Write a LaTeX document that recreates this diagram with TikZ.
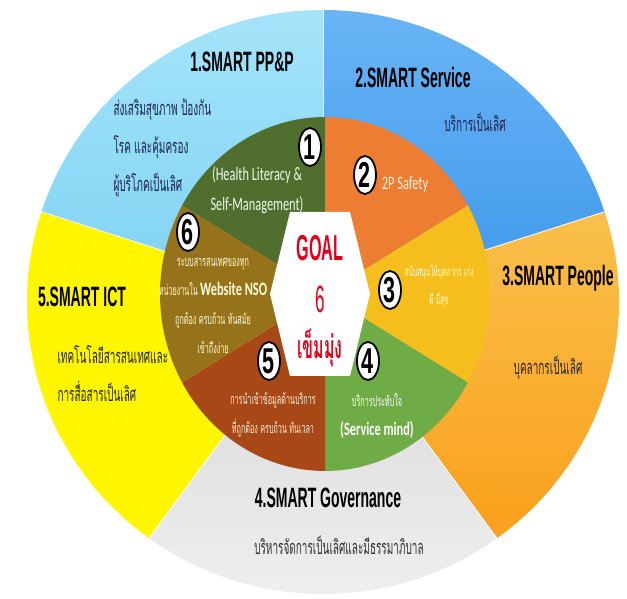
\documentclass[tikz,border=0pt]{standalone}
\usepackage{fontspec}
\setmainfont{Carlito}[FakeStretch=0.65]
\newfontfamily\thai[Script=Thai,FakeStretch=0.5]{Loma}
\newfontfamily\smart[FakeStretch=0.5]{Liberation Sans}
\newfontfamily\badgefont[FakeStretch=0.6]{Liberation Sans}
\newfontfamily\goalfont[FakeStretch=0.45]{Liberation Sans}
\newfontfamily\goalthai[Script=Thai,FakeStretch=0.5]{Loma}
\usetikzlibrary{shapes.geometric}

\definecolor{outAtop}{RGB}{165,228,250}
\definecolor{outA}{RGB}{125,210,243}
\definecolor{outBtop}{RGB}{105,180,246}
\definecolor{outB}{RGB}{62,152,235}
\definecolor{outCtop}{RGB}{250,192,75}
\definecolor{outC}{RGB}{250,160,28}
\definecolor{outDtop}{RGB}{214,214,214}
\definecolor{outD}{RGB}{240,240,240}
\definecolor{outE}{RGB}{255,246,0}
\definecolor{inA}{RGB}{80,110,45}
\definecolor{inB}{RGB}{236,125,50}
\definecolor{inC}{RGB}{246,190,28}
\definecolor{inD}{RGB}{112,172,70}
\definecolor{inE}{RGB}{168,72,22}
\definecolor{inF}{RGB}{150,114,26}
\definecolor{goalred}{RGB}{228,0,28}
\definecolor{navy}{RGB}{28,36,78}

\tikzset{
	title/.style={font=\smart\bfseries\fontsize{28}{28}\selectfont, text=black},
	outtxt/.style={font=\thai\fontsize{20}{38}\selectfont, text=navy},
	intxt/.style={font=\thai\fontsize{14.4}{29}\selectfont, text=white, align=center},
	badge/.style={ellipse, draw=black, line width=1.8pt, fill=white, inner sep=0pt,
		minimum width=22pt, minimum height=38pt, font=\badgefont\bfseries\fontsize{36}{36}\selectfont},
	sep/.style={white, line width=0.8pt}
}

\begin{document}
\begin{tikzpicture}[x=1pt, y=1pt]

	\useasboundingbox (0,0) rectangle (627,598);
	\fill[white] (0,0) rectangle (627,598);

	\coordinate (oc) at (323,296);
	\coordinate (ic) at (325,304);

	\shade[top color=outAtop, bottom color=outA] (oc) -- ++(90:296 and 292) arc[start angle=90, end angle=162, x radius=296, y radius=292] -- cycle;
	\shade[top color=outBtop, bottom color=outB] (oc) -- ++(18:296 and 292) arc[start angle=18, end angle=90, x radius=296, y radius=292] -- cycle;
	\shade[top color=outCtop, bottom color=outC] (oc) -- ++(-54:296 and 292) arc[start angle=-54, end angle=18, x radius=296, y radius=292] -- cycle;
	\shade[top color=outDtop, bottom color=outD] (oc) -- ++(-126:296 and 292) arc[start angle=-126, end angle=-54, x radius=296, y radius=292] -- cycle;
	\fill[outE] (oc) -- ++(162:296 and 292) arc[start angle=162, end angle=234, x radius=296, y radius=292] -- cycle;

	\draw[sep] (oc) -- ++(90:296 and 292);
	\draw[sep] (oc) -- ++(18:296 and 292);
	\draw[sep] (oc) -- ++(-54:296 and 292);
	\draw[sep] (oc) -- ++(-126:296 and 292);
	\draw[sep] (oc) -- ++(162:296 and 292);

	\fill[inA] (ic) -- ++(90:165 and 177) arc[start angle=90, end angle=150, x radius=165, y radius=177] -- cycle;
	\fill[inB] (ic) -- ++(30:165 and 177) arc[start angle=30, end angle=90, x radius=165, y radius=177] -- cycle;
	\fill[inC] (ic) -- ++(-30:165 and 177) arc[start angle=-30, end angle=30, x radius=165, y radius=177] -- cycle;
	\fill[inD] (ic) -- ++(-90:165 and 177) arc[start angle=-90, end angle=-30, x radius=165, y radius=177] -- cycle;
	\fill[inE] (ic) -- ++(-150:165 and 177) arc[start angle=-150, end angle=-90, x radius=165, y radius=177] -- cycle;
	\fill[inF] (ic) -- ++(150:165 and 177) arc[start angle=150, end angle=210, x radius=165, y radius=177] -- cycle;

	\fill[white] (290,386) -- (350,386) -- (370,304) -- (350,222) -- (290,222) -- (270,304) -- cycle;

	\node[title] (t1) at (242,536) {1.SMART PP\&P};
	\node[title] (t2) at (413,521) {2.SMART Service};
	\node[title] (t3) at (558,320) {3.SMART People};
	\node[title] (t4) at (328,100) {4.SMART Governance};
	\node[title] (t5) at (82,301) {5.SMART ICT};

	\node[outtxt, align=left, anchor=west] (d1) at (110,450) {ส่งเสริมสุขภาพ ป้องกัน\\โรค และคุ้มครอง\\ผู้บริโภคเป็นเลิศ};
	\node[outtxt] (d2) at (475,476) {บริการเป็นเลิศ};
	\node[outtxt, text=black!85] (d3) at (548,230) {บุคลากรเป็นเลิศ};
	\node[outtxt, text=black!80] (d4) at (339,53) {บริหารจัดการเป็นเลิศและมีธรรมาภิบาล};
	\node[outtxt, text=black!85, align=left, anchor=west] (d5) at (54,224) {เทคโนโลยีสารสนเทศและ\\การสื่อสารเป็นเลิศ};

	\node[intxt, font=\fontsize{19}{30}\selectfont, text=green!8!white] (i1) at (257,408) {(Health Literacy \&\\Self-Management)};
	\node[intxt, font=\fontsize{19}{30}\selectfont, text=orange!10!white] (i2) at (405,413) {2P Safety};
	\node[intxt, font=\thai\fontsize{13.2}{28}\selectfont, text=yellow!15!white] (i3) at (439,312) {สนับสนุนให้บุคลากร เก่ง\\ดี มีสุข};
	\node[intxt] (i4) at (377,182) {บริการประทับใจ\\{\rmfamily\bfseries\fontsize{19}{19}\selectfont(Service mind)}};
	\node[intxt, text=orange!12!white] (i5) at (273,183) {การนำเข้าข้อมูลด้านบริการ\\ที่ถูกต้อง ครบถ้วน ทันเวลา};
	\node[intxt, text=yellow!15!white] (i6) at (213,292) {ระบบสารสนเทศของทุก\\หน่วยงานใน {\rmfamily\bfseries\fontsize{19}{19}\selectfont Website NSO}\\ถูกต้อง ครบถ้วน ทันสมัย\\เข้าถึงง่าย};

	\node[badge] (b1) at (310,451) {1};
	\node[badge] (b2) at (365,423) {2};
	\node[badge] (b3) at (390,308) {3};
	\node[badge] (b4) at (368,237) {4};
	\node[badge] (b5) at (269,237) {5};
	\node[badge] (b6) at (188,366) {6};

	\node[text=goalred, font=\goalfont\bfseries\fontsize{36}{36}\selectfont] (g1) at (320,350) {GOAL};
	\node[text=goalred, font=\goalfont\fontsize{38}{38}\selectfont] (g2) at (320,299) {6};
	\node[text=goalred, font=\goalthai\bfseries\fontsize{32}{32}\selectfont] (g3) at (320,250) {เข็มมุ่ง};

\end{tikzpicture}
\end{document}
